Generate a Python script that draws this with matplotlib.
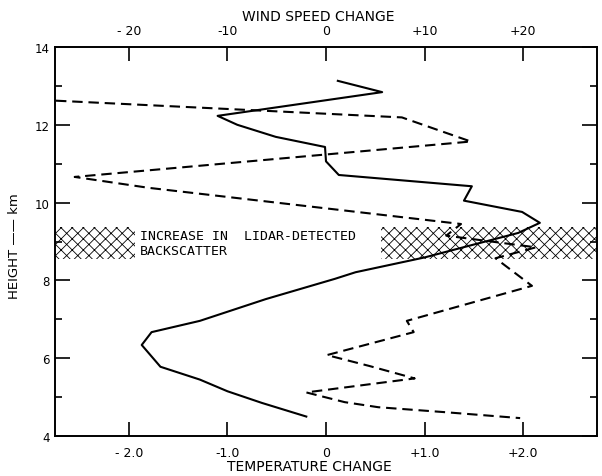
import matplotlib
matplotlib.use('Agg')
import matplotlib.pyplot as plt

# solid curve (temperature change)
temp_change = [0.12, 0.57, -1.10, -0.90, -0.51, -0.01, 0.00, 0.13, 1.48, 1.40,
               1.99, 2.17, 1.95, 1.00, 0.30, 0.09, -0.61, -1.28, -1.77, -1.87,
               -1.68, -1.28, -1.00, -0.65, -0.20]
temp_height = [13.13, 12.84, 12.23, 12.00, 11.69, 11.43, 11.06, 10.71, 10.42, 10.05,
               9.76, 9.48, 9.22, 8.59, 8.21, 8.04, 7.52, 6.96, 6.67, 6.34,
               5.78, 5.45, 5.15, 4.85, 4.50]

# dashed curve (wind speed change)
wind_change = [-27.4, 7.7, 14.7, -25.5, -18.0, 13.7, 12.2, 21.3, 17.2, 20.9,
               8.2, 8.9, 0.1, 4.4, 9.0, -2.0, 1.9, 5.3, 12.2, 19.7]
wind_height = [12.62, 12.19, 11.57, 10.66, 10.38, 9.45, 9.15, 8.85, 8.57, 7.86,
               6.96, 6.67, 6.08, 5.80, 5.48, 5.12, 4.87, 4.74, 4.61, 4.46]

# lidar backscatter layer
layer_bottom, layer_top = 8.55, 9.37
layer_left = [-2.75, -1.94]
layer_right = [0.56, 2.75]

temp_ticks = [-2.0, -1.0, 0.0, 1.0, 2.0]
temp_labels = ['- 2.0', '-1.0', '0', '+1.0', '+2.0']
wind_ticks = [-20, -10, 0, 10, 20]
wind_labels = ['- 20', '-10', '0', '+10', '+20']

plt.rcParams['hatch.linewidth'] = 0.6
plt.rcParams['font.family'] = 'DejaVu Sans'

fig = plt.figure(figsize=(6.02, 4.77), dpi=100)
ax = fig.add_axes([55 / 602, 1 - 437 / 477, 542 / 602, 389 / 477])

ax.set_xlim(-2.75, 2.75)
ax.set_ylim(4, 14)

# hatched layer, split around the text
for xs in (layer_left, layer_right):
	ax.fill_between(xs, layer_bottom, layer_top, facecolor='none', edgecolor='black',
	                hatch='xxx', linewidth=0, zorder=1)
ax.text(-1.89, 8.96, 'INCREASE IN  LIDAR-DETECTED\nBACKSCATTER', fontsize=9.5,
        family='DejaVu Sans Mono', va='center', ha='left', linespacing=1.25, zorder=2)

ax.plot(temp_change, temp_height, color='black', linewidth=1.5, zorder=3)

ax.set_xticks(temp_ticks)
ax.set_xticklabels(temp_labels, fontsize=9)
ax.set_yticks([4, 6, 8, 10, 12, 14])
ax.set_yticks([5, 7, 9, 11, 13], minor=True)
ax.set_yticklabels(['4', '6', '8', '10', '12', '14'], fontsize=8.5)
ax.tick_params(axis='x', direction='in', length=10, width=1.2, pad=7)
ax.tick_params(axis='y', which='major', direction='in', length=11, width=1.2, pad=4, right=True)
ax.tick_params(axis='y', which='minor', direction='in', length=5, width=1.2, right=True)
ax.set_xlabel('TEMPERATURE CHANGE', fontsize=10)
ax.xaxis.set_label_coords(0.47, -0.06)
ax.set_ylabel('HEIGHT —— km', fontsize=9.5)
ax.yaxis.set_label_coords(-0.062, 0.49)

# wind speed on the top axis
ax2 = ax.twiny()
ax2.set_xlim(-27.5, 27.5)
ax2.plot(wind_change, wind_height, color='black', linewidth=1.5,
         linestyle=(0, (5, 2.8)), zorder=3)
ax2.set_xticks(wind_ticks)
ax2.set_xticklabels(wind_labels, fontsize=9)
ax2.tick_params(axis='x', direction='in', length=10, width=1.2, pad=7)
ax2.set_xlabel('WIND SPEED CHANGE', fontsize=10)
ax2.xaxis.set_label_coords(0.485, 1.07)

for a in (ax, ax2):
	for s in a.spines.values():
		s.set_linewidth(1.2)

plt.savefig('out.png', dpi=100)
